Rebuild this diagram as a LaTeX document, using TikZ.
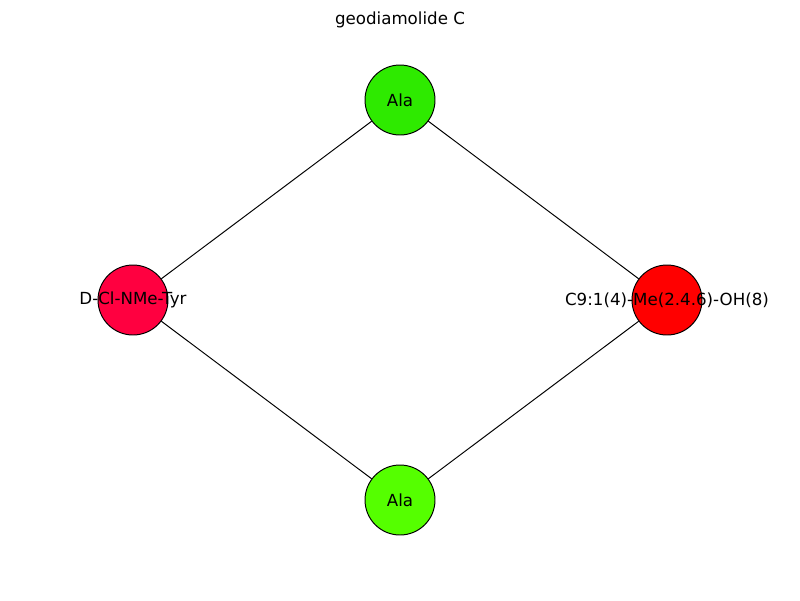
\documentclass[tikz,border=0pt]{standalone}
\usepackage{fontspec}
\setmainfont{DejaVu Sans}
\usetikzlibrary{positioning}
\definecolor{alaA}{HTML}{2EEA00}
\definecolor{alaB}{HTML}{55FF00}
\definecolor{tyrC}{HTML}{FF0040}
\definecolor{acidC}{HTML}{FF0000}
\tikzset{
  residue/.style={circle,draw,line width=0.7pt,minimum size=50.4pt,inner sep=0pt},
  bond/.style={line width=0.7pt},
  label text/.style={font=\fontsize{12}{14}\selectfont}
}
\begin{document}
\begin{tikzpicture}[x=0.72pt,y=-0.72pt]
\useasboundingbox (0,0) rectangle (800,600);
\node[label text] (title) at (400,20) {geodiamolide C};
\node[residue,fill=alaA] (ala1) at (400,100) {};
\node[residue,fill=tyrC] (tyr) at (133,300) {};
\node[residue,fill=acidC] (acid) at (667,300) {};
\node[residue,fill=alaB] (ala2) at (400,500) {};
\draw[bond] (ala1) -- (tyr);
\draw[bond] (ala1) -- (acid);
\draw[bond] (tyr) -- (ala2);
\draw[bond] (acid) -- (ala2);
\node[label text] at (ala1) {Ala};
\node[label text] at (tyr) {D-Cl-NMe-Tyr};
\node[label text] at (acid) {C9:1(4)-Me(2.4.6)-OH(8)};
\node[label text] at (ala2) {Ala};
\end{tikzpicture}
\end{document}
